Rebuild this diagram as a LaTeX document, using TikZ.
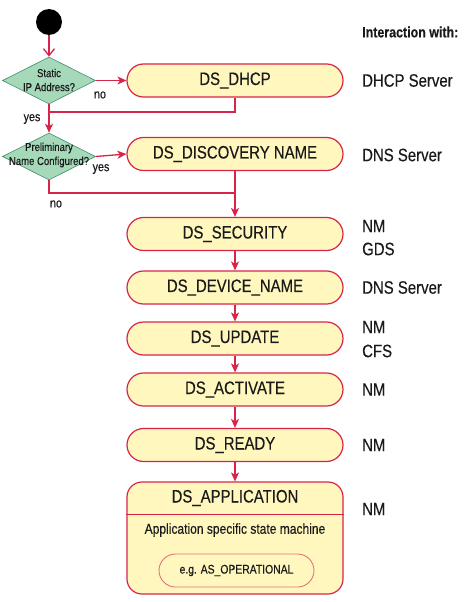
\documentclass[tikz,border=0pt]{standalone}
\usepackage{fontspec}
\setmainfont[FakeStretch=0.83,FakeBold=0.3]{Liberation Sans}
\usetikzlibrary{shapes.geometric,arrows.meta}
\definecolor{redline}{HTML}{D92449}
\definecolor{boxfill}{HTML}{FFF7BE}
\definecolor{diafill}{HTML}{A6D8BA}
\definecolor{diaedge}{HTML}{3F8F6A}
\definecolor{innerred}{HTML}{E0737A}
\definecolor{txt}{HTML}{1A1A1A}
\tikzset{
  stbox/.style={draw=redline, line width=1.2pt, fill=boxfill, rounded corners=16.5pt,
    minimum width=216pt, minimum height=33pt, inner sep=0pt, text=txt, font=\fontsize{18}{21}\selectfont},
  dia/.style={diamond, draw=diaedge, line width=0.6pt, fill=diafill, minimum width=93pt,
    minimum height=47pt, inner sep=0pt},
  diatext/.style={align=center, inner sep=0pt, text=txt, font=\fontsize{11.5}{14}\selectfont},
  conn/.style={draw=redline, line width=1.3pt},
  arr/.style={conn, -{Stealth[length=9pt,width=8pt,inset=2.5pt]}},
  small/.style={inner sep=0pt, text=txt, font=\fontsize{13}{15}\selectfont},
  side/.style={anchor=west, inner sep=0pt, text=txt, font=\fontsize{18}{22}\selectfont},
}
\begin{document}
\begin{tikzpicture}[x=1pt,y=-1pt]
\useasboundingbox (0,0) rectangle (467,602);
\fill[white] (0,0) rectangle (467,602);
% start
\node[circle, fill=black, minimum size=26pt, inner sep=0pt] (start) at (49,22) {};
% decisions
\node[dia] (d1) at (49,80.5) {};
\node[diatext] (d1t) at (49,80) {Static\\IP Address?};
\node[dia] (d2) at (49,156.5) {};
\node[diatext] (d2t) at (49,155) {Preliminary\\Name Configured?};
% states
\node[stbox] (dhcp) at (235,80.5) {DS\_DHCP};
\node[stbox] (disc) at (235,154) {DS\_DISCOVERY NAME};
\node[stbox] (sec) at (235,234) {DS\_SECURITY};
\node[stbox] (dev) at (235,287.5) {DS\_DEVICE\_NAME};
\node[stbox] (upd) at (235,338.5) {DS\_UPDATE};
\node[stbox] (act) at (235,389.5) {DS\_ACTIVATE};
\node[stbox] (ready) at (235,445) {DS\_READY};
\node[draw=redline, line width=1.2pt, fill=boxfill, rounded corners=15pt,
  minimum width=216pt, minimum height=112pt, inner sep=0pt] (app) at (235,538) {};
\draw[draw=redline, line width=0.9pt] (app.west |- 0,514) -- (app.east |- 0,514);
\node[inner sep=0pt, text=txt, font=\fontsize{18}{21}\selectfont] (appt) at (235,498) {DS\_APPLICATION};
\node[inner sep=0pt, text=txt, font=\fontsize{14.5}{17}\selectfont] (appd) at (235,530) {Application specific state machine};
\node[draw=innerred, line width=0.9pt, fill=boxfill, rounded corners=16.5pt,
  minimum width=155pt, minimum height=33pt, inner sep=0pt, text=txt, font=\fontsize{12.5}{15}\selectfont]
  (op) at (236.5,570.5) {e.g. AS\_OPERATIONAL};
% connectors
\draw[conn, -{Straight Barb[length=7pt,width=11pt]}] (start) -- (d1);
\draw[arr] (d1.east) -- (dhcp.west);
\node[small] (no1) at (100,95) {no};
\coordinate (j1) at (49,112);
\draw[conn] (dhcp.south) |- (j1);
\draw[arr] (d1.south) -- (d2.north);
\node[small] (yes1) at (32,119) {yes};
\draw[arr] (d2.east) -- (disc.west);
\node[small] (yes2) at (101,169) {yes};
\coordinate (j2) at (235,193);
\draw[conn] (d2.south) |- (j2);
\node[small] (no2) at (56,204) {no};
\draw[arr] (disc.south) -- (sec.north);
\draw[arr] (sec) -- (dev);
\draw[arr] (dev) -- (upd);
\draw[arr] (upd) -- (act);
\draw[arr] (act) -- (ready);
\draw[arr] (ready) -- (app);
% side labels
\node[anchor=west, inner sep=0pt, text=txt, font=\bfseries\fontsize{15}{18}\selectfont] (iw) at (362,32) {Interaction with:};
\node[side] (s1) at (362,80.5) {DHCP Server};
\node[side] (s2) at (362,155) {DNS Server};
\node[side] (s3) at (362,226) {NM};
\node[side] (s4) at (362,249) {GDS};
\node[side] (s5) at (362,287.5) {DNS Server};
\node[side] (s6) at (362,327) {NM};
\node[side] (s7) at (362,351) {CFS};
\node[side] (s8) at (362,389.5) {NM};
\node[side] (s9) at (362,445) {NM};
\node[side] (s10) at (362,509) {NM};
\end{tikzpicture}
\end{document}
